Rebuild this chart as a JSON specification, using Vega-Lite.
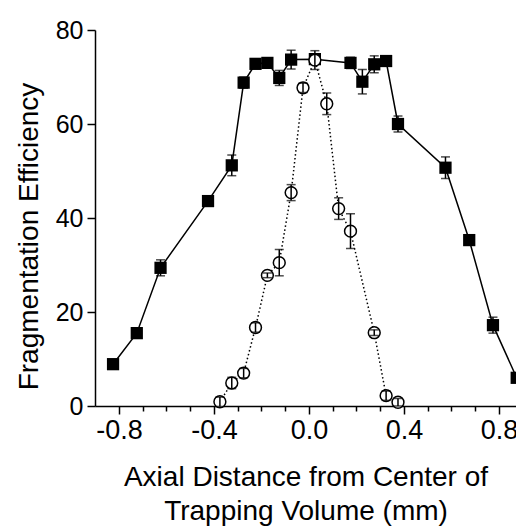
{
  "$schema": "https://vega.github.io/schema/vega-lite/v6.json",
  "autosize": {"type": "none"},
  "padding": {"left": 95, "top": 30, "right": 0, "bottom": 121},
  "width": 421,
  "height": 376,
  "background": "white",
  "config": {
    "view": {"stroke": null},
    "font": "Liberation Sans",
    "axis": {
      "grid": false,
      "domainColor": "black",
      "domainWidth": 1.5,
      "tickColor": "black",
      "tickWidth": 1.5,
      "labelColor": "black",
      "titleColor": "black",
      "labelFont": "Liberation Sans",
      "titleFont": "Liberation Sans",
      "labelFontSize": 25,
      "titleFontSize": 28,
      "titleFontWeight": "normal"
    }
  },
  "datasets": {
    "squares": [
      {"x": -0.825, "y": 8.9, "err": 0.5},
      {"x": -0.725, "y": 15.5, "err": 0.5},
      {"x": -0.625, "y": 29.4, "err": 1.7},
      {"x": -0.425, "y": 43.6, "err": 0.8},
      {"x": -0.325, "y": 51.2, "err": 2.2},
      {"x": -0.275, "y": 68.8, "err": 1.2},
      {"x": -0.225, "y": 72.8, "err": 0.5},
      {"x": -0.175, "y": 73.0, "err": 0.5},
      {"x": -0.125, "y": 69.8, "err": 1.6},
      {"x": -0.075, "y": 73.7, "err": 2.0},
      {"x": 0.025, "y": 73.8, "err": 1.0},
      {"x": 0.175, "y": 73.0, "err": 1.2},
      {"x": 0.225, "y": 69.0, "err": 2.6},
      {"x": 0.275, "y": 72.7, "err": 1.8},
      {"x": 0.325, "y": 73.4, "err": 0.5},
      {"x": 0.375, "y": 60.0, "err": 1.7},
      {"x": 0.575, "y": 50.7, "err": 2.3},
      {"x": 0.675, "y": 35.3, "err": 1.0},
      {"x": 0.775, "y": 17.2, "err": 1.7},
      {"x": 0.875, "y": 6.0, "err": 0.5}
    ],
    "circles": [
      {"x": -0.375, "y": 0.9, "err": 1.0},
      {"x": -0.325, "y": 4.9, "err": 1.2},
      {"x": -0.275, "y": 7.0, "err": 1.0},
      {"x": -0.225, "y": 16.7, "err": 1.0},
      {"x": -0.175, "y": 27.8, "err": 0.5},
      {"x": -0.125, "y": 30.5, "err": 2.8},
      {"x": -0.075, "y": 45.4, "err": 1.7},
      {"x": -0.025, "y": 67.7, "err": 1.0},
      {"x": 0.025, "y": 73.6, "err": 2.0},
      {"x": 0.075, "y": 64.3, "err": 2.3},
      {"x": 0.125, "y": 42.0, "err": 2.3},
      {"x": 0.175, "y": 37.2, "err": 3.7},
      {"x": 0.275, "y": 15.6, "err": 0.6},
      {"x": 0.325, "y": 2.2, "err": 1.0},
      {"x": 0.375, "y": 0.8, "err": 0.8}
    ]
  },
  "encoding": {
    "x": {
      "field": "x",
      "type": "quantitative",
      "scale": {"domain": [-0.901, 0.872], "nice": false, "zero": false},
      "axis": {
        "title": ["Axial Distance from Center of", "Trapping Volume (mm)"],
        "titleLineHeight": 34,
        "titlePadding": 20,
        "labelFontSize": 27,
        "values": [-0.8, -0.7, -0.6, -0.5, -0.4, -0.3, -0.2, -0.1, 0, 0.1, 0.2, 0.3, 0.4, 0.5, 0.6, 0.7, 0.8],
        "labelExpr": "abs(datum.value/0.4 - round(datum.value/0.4)) < 0.01 ? (datum.value < -0.001 ? '-' : '') + format(abs(datum.value), '.1f') : ''",
        "tickSize": {"condition": {"test": "abs(datum.value/0.4 - round(datum.value/0.4)) < 0.01", "value": 8}, "value": 5},
        "labelPadding": 3,
        "labelFlush": false,
        "labelOverlap": false
      }
    },
    "y": {
      "field": "y",
      "type": "quantitative",
      "scale": {"domain": [0, 80], "nice": false},
      "axis": {
        "title": "Fragmentation Efficiency",
        "values": [0, 20, 40, 60, 80],
        "tickSize": 8,
        "labelPadding": 4,
        "titlePadding": 12,
        "titleY": 206
      }
    }
  },
  "layer": [
    {
      "data": {"name": "squares"},
      "mark": {"type": "line", "color": "black", "strokeWidth": 1.5}
    },
    {
      "data": {"name": "squares"},
      "mark": {"type": "errorbar", "ticks": true, "size": 9, "thickness": 1.5, "color": "black"},
      "encoding": {"yError": {"field": "err"}}
    },
    {
      "data": {"name": "squares"},
      "mark": {"type": "point", "shape": "square", "filled": true, "color": "black", "size": 150, "opacity": 1}
    },
    {
      "data": {"name": "circles"},
      "mark": {"type": "line", "color": "black", "strokeWidth": 1.5, "strokeDash": [1.5, 2.5]}
    },
    {
      "data": {"name": "circles"},
      "mark": {"type": "point", "shape": "circle", "fill": "white", "stroke": "black", "strokeWidth": 1.5, "size": 140, "opacity": 1, "fillOpacity": 1}
    },
    {
      "data": {"name": "circles"},
      "mark": {"type": "errorbar", "ticks": true, "size": 9, "thickness": 1.5, "color": "black"},
      "encoding": {"yError": {"field": "err"}}
    }
  ]
}
